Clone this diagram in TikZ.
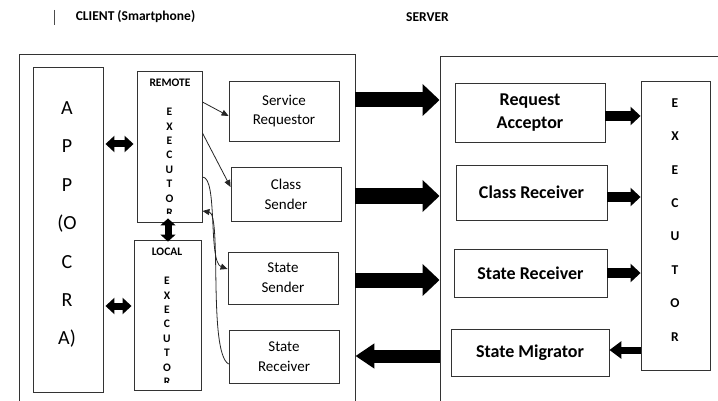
\documentclass[tikz,border=0pt]{standalone}
\usepackage{fontspec}
\setmainfont{Carlito}
\usetikzlibrary{arrows.meta}
\begin{document}
\begin{tikzpicture}[x=1pt,y=-1pt,
  box/.style={draw=black!80, line width=0.9pt, inner sep=0pt, rectangle},
  cltext/.style={font=\fontsize{15}{20}\selectfont, align=center},
  svtext/.style={font=\bfseries\fontsize{18}{23}\selectfont, align=center},
  title/.style={font=\bfseries\fontsize{13.5}{16}\selectfont},
  smallletter/.style={font=\bfseries\fontsize{11.5}{13}\selectfont, inner sep=0pt},
  appletter/.style={font=\fontsize{20}{24}\selectfont, inner sep=0pt},
  exletter/.style={font=\bfseries\fontsize{13.5}{16}\selectfont, inner sep=0pt},
  bigarrow/.style={line width=15pt, -{Triangle[length=17pt,width=31pt]}},
  backarrow/.style={line width=13pt, -{Triangle[length=19pt,width=24pt]}},
  midarrow/.style={line width=10pt, -{Triangle[length=10pt,width=18pt]}},
  migarrow/.style={line width=7pt, -{Triangle[length=12pt,width=17pt]}},
  dblarrow/.style={line width=7pt, {Triangle[length=9pt,width=16pt]}-{Triangle[length=9pt,width=16pt]}},
  vdblarrow/.style={line width=7pt, {Triangle[length=7pt,width=15pt]}-{Triangle[length=7pt,width=15pt]}},
  thinarrow/.style={draw=black!85, line width=0.8pt, -{Triangle[length=7pt,width=6pt]}}
]
\useasboundingbox (0,0) rectangle (718,401);
\clip (0,0) rectangle (718,401);
\fill[white] (0,0) rectangle (718,401);

% titles
\draw[line width=0.8pt, black!70] (54,10) -- (54,25);
\node[title] (ctitle) at (135.5,17) {CLIENT (Smartphone)};
\node[title] (stitle) at (427.5,17) {SERVER};

% outer boxes
\node[box, minimum width=336, minimum height=360] (client) at (187,234) {};
\node[box, minimum width=290, minimum height=358] (server) at (585,235) {};

% client inner boxes
\node[box, minimum width=70, minimum height=325] (app) at (68,229.5) {};
\node[box, minimum width=65, minimum height=151] (remote) at (169.5,146.5) {};
\node[box, minimum width=67, minimum height=150] (local) at (167.5,315) {};
\node[box, cltext, minimum width=110, minimum height=60] (sreq) at (284,111) {Service\\[-1pt]Requestor};
\node[box, cltext, minimum width=110, minimum height=54] (csend) at (286,194) {Class\\Sender};
\node[box, cltext, minimum width=110, minimum height=52] (ssend) at (283,278) {State\\Sender};
\node[box, cltext, minimum width=110, minimum height=53] (crecv) at (284,356.5) {State\\Receiver};

% server inner boxes
\node[box, svtext, minimum width=150, minimum height=59] (racc) at (530,112.5) {Request\\Acceptor};
\node[box, svtext, minimum width=151, minimum height=55] (clrecv) at (531.5,192.5) {Class Receiver};
\node[box, svtext, minimum width=153, minimum height=48] (strecv) at (530.5,273) {State Receiver};
\node[box, svtext, minimum width=158, minimum height=47] (smig) at (530,352.5) {State Migrator};
\node[box, minimum width=69, minimum height=289] (sexec) at (675.5,225.5) {};

% APP letters
\foreach \t [count=\i] in {A,P,P,{(O},C,R,{A)}}
  \node[appletter] (app-\i) at (67,{108+38.5*(\i-1)}) {\t};

% remote executor letters
\begin{scope}
\clip ([yshift=9pt]remote.south west) rectangle (remote.north east);
\node[smallletter] (remlabel) at (170,83) {REMOTE};
\foreach \t [count=\i] in {E,X,E,C,U,T,O,R}
  \node[smallletter] (rem-\i) at (169.5,{112+14.4*(\i-1)}) {\t};
\end{scope}

% local executor letters
\begin{scope}
\clip ([yshift=8pt]local.south west) rectangle (local.north east);
\node[smallletter] (loclabel) at (167,252) {LOCAL};
\foreach \t [count=\i] in {E,X,E,C,U,T,O,R}
  \node[smallletter] (loc-\i) at (167,{281+14.4*(\i-1)}) {\t};
\end{scope}

% server executor letters
\foreach \t [count=\i] in {E,X,E,C,U,T,O,R}
  \node[exletter] (sex-\i) at (675,{103+33.4*(\i-1)}) {\t};

% big client-server arrows
\draw[bigarrow] (client.east |- 0,100) -- (server.west |- 0,100);
\draw[bigarrow, line width=16pt] (client.east |- 0,196) -- (server.west |- 0,196);
\draw[bigarrow] (client.east |- 0,280) -- (server.west |- 0,280);
\draw[backarrow] (server.west |- 0,356) -- (client.east |- 0,356);

% server small arrows
\draw[midarrow] (racc.east |- 0,116) -- (sexec.west |- 0,116);
\draw[midarrow] (clrecv.east |- 0,197) -- (sexec.west |- 0,197);
\draw[midarrow] (strecv.east |- 0,273) -- (sexec.west |- 0,273);
\draw[migarrow] (sexec.west |- 0,350) -- (smig.east |- 0,350);

% double arrows
\draw[dblarrow, shorten <=2pt, shorten >=3pt] (app.east |- 0,144) -- (remote.west |- 0,144);
\draw[dblarrow, shorten <=2pt, shorten >=2pt] (app.east |- 0,306) -- (local.west |- 0,306);
\draw[vdblarrow, shorten <=-4pt, shorten >=-2pt] (remote.south -| 168,0) -- (local.north -| 168,0);

% thin arrows
\draw[thinarrow] (remote.east |- 0,102) -- (sreq.west |- 0,116);
\draw[thinarrow] (remote.east |- 0,133) -- (csend.west |- 0,187);
\draw[thinarrow] (remote.east |- 0,177) .. controls (218,177) and (208,262) .. (ssend.west |- 0,269);
\draw[thinarrow] (crecv.west |- 0,364) .. controls (208,352) and (222,214) .. (remote.east |- 0,211);
\end{tikzpicture}
\end{document}
